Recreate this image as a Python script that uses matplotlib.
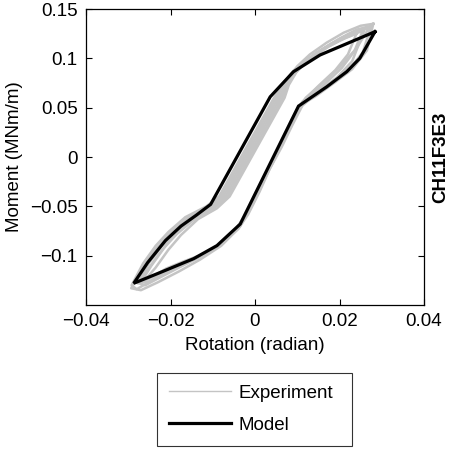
import matplotlib
matplotlib.use("Agg")
import matplotlib.pyplot as plt

plt.rcParams['font.family'] = ['Liberation Sans', 'DejaVu Sans']
plt.rcParams['axes.unicode_minus'] = True

# Model hysteresis loop
model_x = [0.0284, 0.0154, 0.0091, 0.0036, -0.0105, -0.0139, -0.0175, -0.0212, -0.0254, -0.0287,
           -0.0224, -0.0145, -0.0090, -0.0035, 0.0103, 0.0170, 0.0217, 0.0248, 0.0284]
model_y = [0.127, 0.1034, 0.0864, 0.061, -0.048, -0.059, -0.070, -0.0847, -0.107, -0.128,
           -0.117, -0.103, -0.0898, -0.068, 0.0516, 0.0712, 0.0864, 0.100, 0.127]

expA_x = [0.0275, 0.024, 0.020, 0.016, 0.012, 0.009, 0.0068, 0.0045, 0.0019, -0.0007, -0.0033,
          -0.0059, -0.0085, -0.0115, -0.0165, -0.0205, -0.0235, -0.0265, -0.0292,
          -0.028, -0.024, -0.019, -0.014, -0.0088, -0.004, -0.0016, 0.0011, 0.0035, 0.0063,
          0.0088, 0.0112, 0.0145, 0.0185, 0.0225, 0.0255, 0.0275]
expA_y = [0.133, 0.129, 0.120, 0.109, 0.098, 0.087, 0.075, 0.060, 0.040, 0.020, 0.0,
          -0.020, -0.040, -0.050, -0.061, -0.076, -0.090, -0.108, -0.130,
          -0.134, -0.124, -0.113, -0.103, -0.091, -0.073, -0.058, -0.035, -0.012, 0.010,
          0.032, 0.052, 0.064, 0.077, 0.090, 0.106, 0.133]

expB_x = [0.027, 0.023, 0.019, 0.015, 0.0115, 0.0088, 0.0072, 0.0055, 0.0029, 0.0003, -0.0023,
          -0.0049, -0.0075, -0.0105, -0.015, -0.019, -0.022, -0.025, -0.0278,
          -0.025, -0.021, -0.016, -0.011, -0.006, -0.003, -0.0009, 0.0016, 0.0044, 0.0072,
          0.0097, 0.012, 0.016, 0.020, 0.024, 0.027]
expB_y = [0.131, 0.126, 0.117, 0.107, 0.096, 0.084, 0.072, 0.060, 0.040, 0.020, 0.0,
          -0.020, -0.040, -0.051, -0.062, -0.077, -0.090, -0.107, -0.128,
          -0.126, -0.117, -0.107, -0.096, -0.081, -0.065, -0.050, -0.028, -0.004, 0.020,
          0.042, 0.060, 0.075, 0.091, 0.110, 0.131]

expC_x = [0.026, 0.022, 0.018, 0.014, 0.011, 0.0088, 0.0075, 0.0065, 0.0039, 0.0013, -0.0013,
          -0.0039, -0.0065, -0.0095, -0.014, -0.0185, -0.0215, -0.0245, -0.027,
          -0.0245, -0.021, -0.017, -0.012, -0.0075, -0.0035, -0.0012, 0.0015, 0.0042, 0.0068,
          0.0095, 0.0118, 0.0155, 0.0195, 0.023, 0.026]
expC_y = [0.130, 0.124, 0.115, 0.104, 0.093, 0.081, 0.070, 0.060, 0.040, 0.020, 0.0,
          -0.020, -0.040, -0.051, -0.062, -0.078, -0.092, -0.110, -0.127,
          -0.122, -0.113, -0.106, -0.098, -0.087, -0.070, -0.052, -0.028, -0.005, 0.018,
          0.042, 0.056, 0.068, 0.081, 0.097, 0.130]

expD_x = [0.024, 0.020, 0.016, 0.0125, 0.0098, 0.008, 0.007, 0.0044, 0.0018, -0.0008, -0.0034,
          -0.006, -0.009, -0.0135, -0.0175, -0.0205, -0.0235, -0.0255,
          -0.023, -0.019, -0.0145, -0.0095, -0.005, -0.0022, 0.0006, 0.0033, 0.006,
          0.0087, 0.0112, 0.015, 0.019, 0.022, 0.024]
expD_y = [0.125, 0.118, 0.109, 0.098, 0.086, 0.073, 0.060, 0.040, 0.020, 0.0, -0.020,
          -0.040, -0.052, -0.063, -0.079, -0.094, -0.112, -0.122,
          -0.121, -0.112, -0.104, -0.092, -0.076, -0.058, -0.034, -0.010, 0.014,
          0.038, 0.056, 0.072, 0.088, 0.104, 0.125]

expE_x = [0.028, 0.025, 0.021, 0.017, 0.013, 0.010, 0.0075, 0.005, 0.0024, -0.0002, -0.0028,
          -0.0054, -0.008, -0.011, -0.016, -0.0205, -0.024, -0.027, -0.0293,
          -0.027, -0.023, -0.018, -0.013, -0.008, -0.0038, -0.0018, 0.0008, 0.0034, 0.006,
          0.0086, 0.011, 0.0145, 0.019, 0.023, 0.0265, 0.028]
expE_y = [0.135, 0.133, 0.126, 0.116, 0.104, 0.092, 0.078, 0.060, 0.040, 0.020, 0.0,
          -0.020, -0.040, -0.050, -0.062, -0.079, -0.096, -0.115, -0.133,
          -0.135, -0.127, -0.116, -0.104, -0.090, -0.072, -0.057, -0.034, -0.011, 0.012,
          0.035, 0.053, 0.062, 0.076, 0.089, 0.108, 0.135]

expF_x = [0.0255, 0.0215, 0.0175, 0.0135, 0.0105, 0.0082, 0.006, 0.0034, 0.0008, -0.0018,
          -0.0044, -0.007, -0.010, -0.0145, -0.0195, -0.023, -0.026, -0.0275,
          -0.026, -0.022, -0.0175, -0.0125, -0.0078, -0.0038, -0.0015, 0.0012, 0.0039,
          0.0066, 0.0092, 0.0115, 0.016, 0.0205, 0.0235, 0.0255]
expF_y = [0.128, 0.121, 0.112, 0.101, 0.090, 0.078, 0.060, 0.040, 0.020, 0.0,
          -0.020, -0.040, -0.051, -0.062, -0.081, -0.100, -0.118, -0.128,
          -0.130, -0.121, -0.111, -0.100, -0.088, -0.071, -0.054, -0.030, -0.006,
          0.018, 0.040, 0.056, 0.072, 0.090, 0.107, 0.128]

exp_loops = [(expA_x, expA_y), (expB_x, expB_y), (expC_x, expC_y),
             (expD_x, expD_y), (expE_x, expE_y), (expF_x, expF_y)]

x_ticks = [-0.04, -0.02, 0, 0.02, 0.04]
x_ticklabels = ['\u22120.04', '\u22120.02', '0', '0.02', '0.04']
y_ticks = [-0.1, -0.05, 0, 0.05, 0.1, 0.15]
y_ticklabels = ['\u22120.1', '\u22120.05', '0', '0.05', '0.1', '0.15']

W, H = 455, 457
fig = plt.figure(figsize=(W / 100, H / 100), dpi=100)
ax = fig.add_axes([86 / W, 1 - 305 / H, (424 - 86) / W, (305 - 9) / H])

fs = 13.5
exp_color = '#c4c4c4'
for i, (xs, ys) in enumerate(exp_loops):
    ax.plot(xs, ys, color=exp_color, lw=1.8, solid_joinstyle='round',
            label='Experiment' if i == 0 else None, zorder=2)
ax.plot(model_x, model_y, color='black', lw=2.3, label='Model', zorder=3,
        solid_joinstyle='miter')

ax.set_xlim(-0.04, 0.04)
ax.set_ylim(-0.15, 0.15)
ax.set_xticks(x_ticks)
ax.set_xticklabels(x_ticklabels)
ax.set_yticks(y_ticks)
ax.set_yticklabels(y_ticklabels)
ax.tick_params(direction='in', length=4, width=0.8, top=True, right=True,
               labelsize=fs, pad=6)
for s in ax.spines.values():
    s.set_linewidth(0.9)

ax.set_xlabel('Rotation (radian)', fontsize=fs, labelpad=5)
ax.set_ylabel('Moment (MNm/m)', fontsize=fs, labelpad=5)

fig.text(441 / W, 1 - 157 / H, 'CH11F3E3', rotation=90, fontsize=fs,
         fontweight='bold', ha='center', va='center')

handles, labels = ax.get_legend_handles_labels()
leg = fig.legend(handles, labels, loc='upper left',
                 bbox_to_anchor=(157 / W, 1 - 446 / H, (352 - 157) / W, (446 - 373) / H),
                 mode='expand', borderaxespad=0, fontsize=fs, frameon=True,
                 fancybox=False, handlelength=3.3, handletextpad=0.4,
                 labelspacing=0.8, borderpad=0.62)
leg.get_frame().set_edgecolor('black')
leg.get_frame().set_linewidth(0.8)
leg.get_lines()[0].set_linewidth(1.0)

fig.savefig('out.png', dpi=100)
